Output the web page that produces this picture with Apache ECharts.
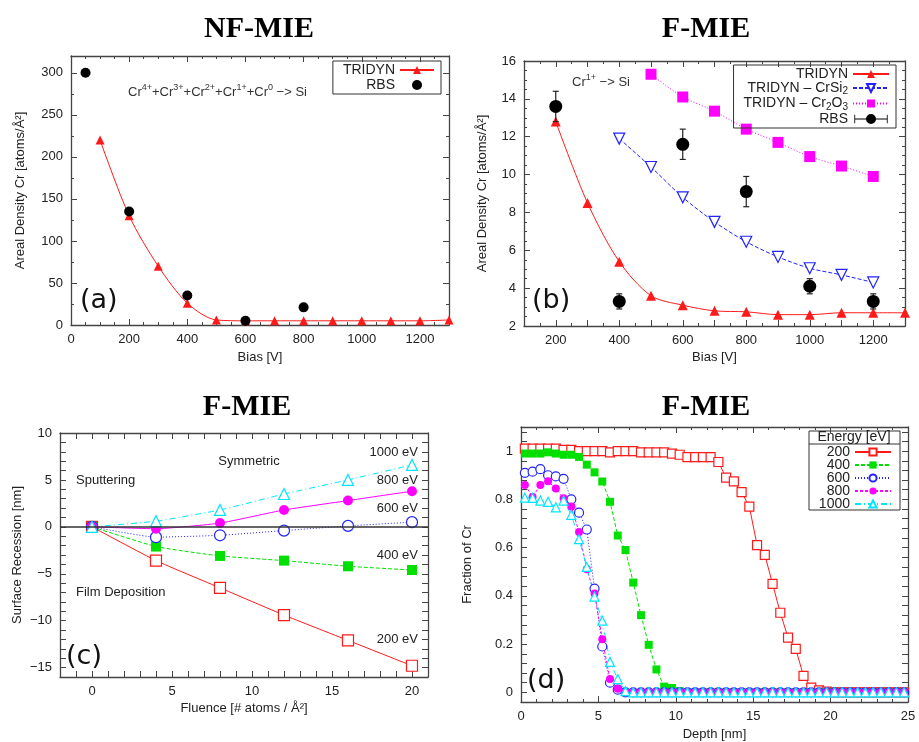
<!DOCTYPE html>
<html><head><meta charset="utf-8">
<script src="https://cdn.jsdelivr.net/npm/echarts@6/dist/echarts.min.js"></script>
<style>html,body{margin:0;padding:0;background:#fff}#c{width:919px;height:742px}</style>
</head><body><div id="c"></div>
<script>
// ---------- Panel (a) NF-MIE ----------
const biasA = [100,200,300,400,500,600,700,800,900,1000,1100,1200,1300];
const tridynA = [220,130,70,26,6,5,5,5,5,5,5,5,6];
const rbsBiasA = [50,200,400,600,800];
const rbsA = [300,135,35,5,21];
// ---------- Panel (b) F-MIE ----------
const biasB = [200,300,400,500,600,700,800,900,1000,1100,1200,1300];
const tridynB = [12.8,8.5,5.4,3.6,3.1,2.8,2.75,2.6,2.6,2.7,2.7,2.7];
const biasCrSi2 = [400,500,600,700,800,900,1000,1100,1200];
const crSi2B = [11.9,10.4,8.8,7.5,6.45,5.65,5.05,4.7,4.3];
const biasCr2O3 = [500,600,700,800,900,1000,1100,1200];
const cr2o3B = [15.3,14.1,13.35,12.4,11.7,10.95,10.45,9.9];
const rbsBiasB = [200,400,600,800,1000,1200];
const rbsB = [13.6,3.3,11.6,9.1,4.1,3.3];
const rbsErrB = [0.8,0.4,0.8,0.8,0.4,0.4];
// ---------- Panel (c) ----------
const fluence = [0,4,8,12,16,20];
const rec200 = [0,-3.6,-6.5,-9.4,-12.1,-14.8];
const rec400 = [0,-2.1,-3.1,-3.6,-4.2,-4.6];
const rec600 = [0,-1.1,-0.9,-0.4,0.1,0.5];
const rec800 = [0,-0.2,0.4,1.8,2.8,3.8];
const rec1000 = [0,0.6,1.8,3.5,5.0,6.6];
// ---------- Panel (d) ----------
const depth = [0.25,0.75,1.25,1.75,2.25,2.75,3.25,3.75,4.25,4.75,5.25,5.75,6.25,6.75,7.25,7.75,8.25,8.75,9.25,9.75,
  10.25,10.75,11.25,11.75,12.25,12.75,13.25,13.75,14.25,14.75,15.25,15.75,16.25,16.75,17.25,17.75,18.25,18.75,19.25,19.75,
  20.25,20.75,21.25,21.75,22.25,22.75,23.25,23.75,24.25,24.75];
const frac200 = [1.01,1.01,1.01,1.01,1.01,1.005,1.005,1.0,1.0,1.0,1.0,0.995,1.0,1.0,1.0,0.995,0.995,0.995,0.995,0.99,
  0.985,0.975,0.975,0.975,0.975,0.955,0.89,0.875,0.83,0.77,0.61,0.57,0.45,0.33,0.227,0.18,0.068,0.02,0.008,0.003,
  0,0,0,0,0,0,0,0,0,0];
const frac400 = [0.99,0.99,0.99,0.995,0.99,0.985,0.985,0.976,0.944,0.912,0.874,0.79,0.65,0.59,0.455,0.32,0.197,0.095,0.024,0.018,
  0.005,0,0,0,0,0,0,0,0,0,0,0,0,0,0,0,0,0,0,0,
  0,0,0,0,0,0,0,0,0,0];
const frac600 = [0.91,0.915,0.925,0.9,0.895,0.885,0.8,0.745,0.675,0.43,0.19,0.04,0.011,0,0,0,0,0,0,0,
  0,0,0,0,0,0,0,0,0,0,0,0,0,0,0,0,0,0,0,0,
  0,0,0,0,0,0,0,0,0,0];
const frac800 = [0.86,0.81,0.86,0.875,0.845,0.805,0.77,0.665,0.51,0.41,0.22,0.055,0.015,0,0,0,0,0,0,0,
  0,0,0,0,0,0,0,0,0,0,0,0,0,0,0,0,0,0,0,0,
  0,0,0,0,0,0,0,0,0,0];
const frac1000 = [0.807,0.806,0.795,0.79,0.767,0.795,0.736,0.635,0.52,0.397,0.297,0.126,0.055,0.005,0,0,0,0,0,0,
  0,0,0,0,0,0,0,0,0,0,0,0,0,0,0,0,0,0,0,0,
  0,0,0,0,0,0,0,0,0,0];

const FONT = 'Liberation Sans';
const AX = '#444';
const zip = (xs, ys) => xs.map((x, i) => [x, ys[i]]);

const every = (step) => (v) => {
  const r = v / step;
  if (Math.abs(r - Math.round(r)) > 1e-6) return '';
  const n = Math.round(v * 100) / 100;
  return String(n).replace('-', '\u2212');
};
function axis(grid, pos, o, mirror) {
  return {
    type: 'value', gridIndex: grid, position: pos,
    min: o.min, max: o.max, interval: o.interval,
    axisLine: {show: true, onZero: false, lineStyle: {color: AX, width: 1.3}},
    axisTick: {show: true, inside: true, length: 6, lineStyle: {color: AX, width: 1}},
    minorTick: {show: !!o.minor, splitNumber: o.minor || 1, length: 3, lineStyle: {color: AX, width: 1}},
    splitLine: {show: false},
    axisLabel: {show: !mirror, color: '#222', fontSize: 13, fontFamily: FONT, margin: 8,
      formatter: o.fmt, showMinLabel: true, showMaxLabel: true},
    name: mirror ? '' : o.name, nameLocation: 'middle', nameGap: o.gap,
    nameTextStyle: {color: '#222', fontSize: 13, fontFamily: FONT},
    silent: true
  };
}
function pair(kind, grid, o) {
  const a = kind === 'x' ? ['bottom', 'top'] : ['left', 'right'];
  return [axis(grid, a[0], o, false), axis(grid, a[1], o, true)];
}

const xAxes = [].concat(
  pair('x', 0, {min: 0, max: 1300, interval: 200, minor: 4, name: 'Bias [V]', gap: 26, fmt: every(200)}),
  pair('x', 1, {min: 100, max: 1300, interval: 100, minor: 2, name: 'Bias [V]', gap: 25, fmt: every(200)}),
  pair('x', 2, {min: -2, max: 21, interval: 1, name: 'Fluence [# atoms / Å²]', gap: 25, fmt: every(5)}),
  pair('x', 3, {min: 0, max: 25, interval: 5, minor: 5, name: 'Depth [nm]', gap: 26, fmt: every(5)})
);
const yAxes = [].concat(
  pair('y', 0, {min: 0, max: 320, interval: 50, minor: 2, name: 'Areal Density Cr [atoms/Å²]', gap: 44, fmt: every(50)}),
  pair('y', 1, {min: 2, max: 16, interval: 2, minor: 4, name: 'Areal Density Cr [atoms/Å²]', gap: 35, fmt: every(2)}),
  pair('y', 2, {min: -16, max: 10, interval: 1, name: 'Surface Recession [nm]', gap: 36, fmt: every(5)}),
  pair('y', 3, {min: -0.04, max: 1.1, interval: 0.04, name: 'Fraction of Cr', gap: 47, fmt: every(0.2)})
);

const RED = '#ff1a1a', GREEN = '#00e000', BLUE = '#2222ff', MAG = '#ff00ff', CYAN = '#00e5ff';

function lineS(name, grid, xs, ys, color, dash, symbol, size, open, smooth, extra) {
  return Object.assign({
    name, type: 'line', xAxisIndex: grid * 2, yAxisIndex: grid * 2,
    data: zip(xs, ys), smooth: smooth || false, symbol, symbolSize: size,
    showAllSymbol: true,
    lineStyle: {color, width: 1, type: dash},
    itemStyle: open ? {color: '#fff', borderColor: color, borderWidth: 1.2} : {color, borderWidth: 0},
    emphasis: {disabled: true}, z: 3
  }, extra || {});
}

const series = [
  // (a)
  lineS('TRIDYN', 0, biasA, tridynA, RED, 'solid', 'triangle', 9, false, 0.3),
  {name: 'RBS', type: 'scatter', data: zip(rbsBiasA, rbsA),
   symbol: 'circle', symbolSize: 10, itemStyle: {color: '#000', opacity: 1}, emphasis: {disabled: true}, z: 4},
  // (b)
  lineS('TRIDYN\u200b', 1, biasB, tridynB, RED, 'solid', 'triangle', 10, false, 0.3),
  lineS('CrSi2', 1, biasCrSi2, crSi2B, BLUE, [4, 2], 'triangle', 11, true, 0.3, {symbolRotate: 180}),
  lineS('Cr2O3', 1, biasCr2O3, cr2o3B, MAG, [1, 2], 'rect', 11, false, 0.3),
  {name: 'RBSerr', type: 'custom',
   data: rbsBiasB.map((x, i) => [x, rbsB[i] - rbsErrB[i], rbsB[i] + rbsErrB[i]]),
   encode: {x: 0, y: [1, 2]}, z: 4,
   renderItem: function (params, api) {
     const p1 = api.coord([api.value(0), api.value(1)]);
     const p2 = api.coord([api.value(0), api.value(2)]);
     const st = {stroke: '#222', lineWidth: 1.2};
     return {type: 'group', children: [
       {type: 'line', shape: {x1: p1[0], y1: p1[1], x2: p2[0], y2: p2[1]}, style: st},
       {type: 'line', shape: {x1: p1[0] - 3, y1: p1[1], x2: p1[0] + 3, y2: p1[1]}, style: st},
       {type: 'line', shape: {x1: p2[0] - 3, y1: p2[1], x2: p2[0] + 3, y2: p2[1]}, style: st}
     ]};
   }},
  {name: 'RBS\u200b', type: 'scatter', data: zip(rbsBiasB, rbsB),
   symbol: 'circle', symbolSize: 13, itemStyle: {color: '#000', opacity: 1}, emphasis: {disabled: true}, z: 5},
  // (c)
  lineS('c200', 2, fluence, rec200, RED, 'solid', 'rect', 11, true, 0.15, {
    markLine: {silent: true, symbol: 'none', label: {show: false},
      lineStyle: {color: '#333', type: 'solid', width: 1.5}, data: [{yAxis: 0}]}}),
  lineS('c400', 2, fluence, rec400, GREEN, [4, 2], 'rect', 10, false, 0.15),
  lineS('c600', 2, fluence, rec600, BLUE, [1, 2], 'circle', 11, true, 0.15),
  lineS('c800', 2, fluence, rec800, MAG, 'solid', 'circle', 10, false, 0.15),
  lineS('c1000', 2, fluence, rec1000, CYAN, [6, 3, 1, 3], 'triangle', 11, true, 0.15),
  // (d)
  lineS('200', 3, depth, frac200, RED, 'solid', 'rect', 9, true, false),
  lineS('400', 3, depth, frac400, GREEN, [4, 2], 'rect', 8, false, false),
  lineS('600', 3, depth, frac600, BLUE, [1, 2], 'circle', 9, true, false),
  lineS('800', 3, depth, frac800, MAG, [3, 2], 'circle', 8, false, false),
  lineS('1000', 3, depth, frac1000, CYAN, [6, 3, 1, 3], 'triangle', 9, true, false)
];
series.forEach(s => {
  let g;
  if (['TRIDYN', 'RBS'].includes(s.name)) g = 0;
  else if (['TRIDYN\u200b', 'CrSi2', 'Cr2O3', 'RBSerr', 'RBS\u200b'].includes(s.name)) g = 1;
  else if (s.name.startsWith('c')) g = 2;
  else g = 3;
  s.xAxisIndex = 2 * g; s.yAxisIndex = 2 * g;
});

const legStyle = {color: '#222', fontSize: 14, fontFamily: FONT, lineHeight: 13};
const legStyleD = {color: '#222', fontSize: 14, fontFamily: FONT};
const errIcon = 'path://M0,1h1v10h-1z M0,5.4h40v1.2h-40z M39,1h1v10h-1z M26,6a6,6 0 1,1 -12,0a6,6 0 1,1 12,0z';
const T = (text, x, y, extra) => ({type: 'text', silent: true, style: Object.assign({text, x, y, verticalAlign: 'middle', font: '13px "Liberation Sans"', fill: '#222'}, extra || {})});
const TITLE = 'bold 30px "Liberation Serif"';
const PANEL = '27px "DejaVu Sans"';

const option = {
  animation: false,
  backgroundColor: '#fff',
  grid: [
    {left: 71, top: 56, width: 378, height: 269},
    {left: 524, top: 61, width: 381, height: 265},
    {left: 60, top: 433, width: 368, height: 244},
    {left: 521, top: 427, width: 387, height: 275}
  ],
  xAxis: xAxes, yAxis: yAxes,
  legend: [
    {data: ['TRIDYN', 'RBS'], orient: 'vertical', align: 'right', right: 478, top: 61,
     itemWidth: 34, itemHeight: 10, itemGap: 1, padding: [2, 6, 2, 10],
     borderColor: '#333', borderWidth: 1, textStyle: legStyle, selectedMode: false},
    {data: ['TRIDYN\u200b', 'CrSi2', 'Cr2O3', {name: 'RBS\u200b', icon: errIcon}],
     orient: 'vertical', align: 'right', right: 23, top: 65,
     itemWidth: 36, itemHeight: 10, itemGap: 0, padding: [2, 6, 2, 10],
     borderColor: '#333', borderWidth: 1, selectedMode: false,
     formatter: function (n) {
       if (n === 'CrSi2') return 'TRIDYN \u2013 CrSi{sub|2}';
       if (n === 'Cr2O3') return 'TRIDYN \u2013 Cr{sub|2}O{sub|3}';
       return n.replace('\u200b', '');
     },
     textStyle: Object.assign({}, legStyle, {rich: {sub: {fontSize: 10, fontFamily: FONT, color: '#222', padding: [7, 0, 0, 0]}}})},
    {data: ['200', '400', '600', '800', '1000'], orient: 'vertical', align: 'right', right: 21, top: 445,
     itemWidth: 36, itemHeight: 9, itemGap: -1, padding: [0, 6, 0, 6], selectedMode: false, textStyle: legStyleD}
  ],
  graphic: [
    T('NF-MIE', 259, 29, {align: 'center', font: TITLE, fill: '#000'}),
    T('F-MIE', 706, 29, {align: 'center', font: TITLE, fill: '#000'}),
    T('F-MIE', 247, 407, {align: 'center', font: TITLE, fill: '#000'}),
    T('F-MIE', 706, 407, {align: 'center', font: TITLE, fill: '#000'}),
    T('(a)', 80, 301, {font: PANEL, fill: '#111'}),
    T('(b)', 532, 301, {font: PANEL, fill: '#111'}),
    T('(c)', 66, 657, {font: PANEL, fill: '#111'}),
    T('(d)', 527, 681, {font: PANEL, fill: '#111'}),
    T('Cr{s|4+}+Cr{s|3+}+Cr{s|2+}+Cr{s|1+}+Cr{s|0} \u2212> Si', 128, 92, {fill: '#333',
      rich: {s: {fontSize: 9, fontFamily: FONT, fill: '#333', padding: [0, 0, 9, 0]}}}),
    T('Cr{s|1+} \u2212> Si', 572, 82, {fill: '#333',
      rich: {s: {fontSize: 9, fontFamily: FONT, fill: '#333', padding: [0, 0, 9, 0]}}}),
    T('1000 eV', 418, 452, {align: 'right'}),
    T('800 eV', 418, 480, {align: 'right'}),
    T('600 eV', 418, 508, {align: 'right'}),
    T('400 eV', 418, 555, {align: 'right'}),
    T('200 eV', 418, 639, {align: 'right'}),
    T('Symmetric', 249, 461, {align: 'center'}),
    T('Sputtering', 76, 480),
    T('Film Deposition', 76, 592),
    {type: 'rect', silent: true, shape: {x: 809, y: 431, width: 91, height: 79}, style: {fill: 'none', stroke: '#333', lineWidth: 1}},
    {type: 'line', silent: true, shape: {x1: 809, y1: 444, x2: 900, y2: 444}, style: {stroke: '#333', lineWidth: 1}},
    T('Energy [eV]', 854, 437.5, {align: 'center', font: '14px "Liberation Sans"'})
  ],
  series
};
const chart = echarts.init(document.getElementById('c'), null, {renderer: 'canvas'});
chart.setOption(option);
</script>
</body></html>
